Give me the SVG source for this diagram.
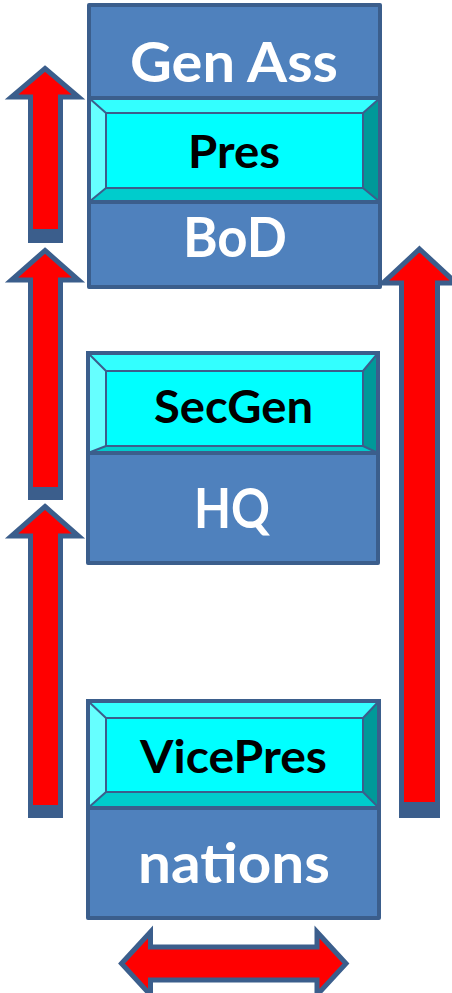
<svg xmlns="http://www.w3.org/2000/svg" width="452" height="993" viewBox="0 0 452 993">
<style>
.box{fill:#4F81BD;stroke:#3B5E8C;stroke-width:4;stroke-linejoin:round}
.div{stroke:#3B5E8C;stroke-width:4}
.bt{fill:#33FFFF}.bl{fill:#66FFFF}.br{fill:#009999}.bb{fill:#00CCCC}
.bi{fill:#00FFFF}
.be{fill:none;stroke:#3B5E8C;stroke-width:2}
.arr{fill:#FF0000;stroke:#3B5E8C;stroke-width:5;stroke-linejoin:miter}
.band{fill:#3B5E8C}
.wt{font-family:Lato,"Open Sans",sans-serif;font-weight:bold;font-size:56px;fill:#FFFFFF;text-anchor:middle}
.bk{font-family:Lato,"Open Sans",sans-serif;font-weight:bold;font-size:46px;fill:#000000;text-anchor:middle}
</style>
<g id="connectors">
<polygon class="arr" points="45,68.5 78.5,97 60.5,97 60.5,240 30.5,240 30.5,97 11.5,97"/>
<rect class="band" x="28" y="229" width="35" height="14"/>
<polygon class="arr" points="45,250.5 78.5,280 60.5,280 60.5,497 30.5,497 30.5,280 11.5,280"/>
<rect class="band" x="28" y="487" width="35" height="13"/>
<polygon class="arr" points="45,506.5 78.5,536 60.5,536 60.5,815 30.5,815 30.5,536 11.5,536"/>
<rect class="band" x="28" y="805" width="35" height="13"/>
<polygon class="arr" points="419.5,249 456,283 437.5,283 437.5,815 401.5,815 401.5,283 383,283"/>
<rect class="band" x="399" y="802" width="41" height="16"/>
<polygon class="arr" points="121.5,963.5 150.5,932 150.5,947 317,947 317,932 346,963.5 317,995 317,980 150.5,980 150.5,995"/>
</g>
<g id="node-genass">
<rect class="box" x="89" y="5" width="291" height="282"/>
<line class="div" x1="89" y1="98" x2="380" y2="98"/>
<line class="div" x1="89" y1="202" x2="380" y2="202"/>
<text class="wt" x="234" y="82" textLength="208" lengthAdjust="spacingAndGlyphs">Gen Ass</text>
<text class="wt" x="235" y="257" textLength="104" lengthAdjust="spacingAndGlyphs">BoD</text>
</g>
<g id="node-pres">
<polygon class="bt" points="89,98 380,98 363,113 106,113"/>
<polygon class="bl" points="89,98 106,113 106,188 89,202"/>
<polygon class="br" points="380,98 380,202 363,188 363,113"/>
<polygon class="bb" points="89,202 106,188 363,188 380,202"/>
<rect class="bi" x="106" y="113" width="257" height="75"/>
<path class="be" d="M89,98 L106,113 M380,98 L363,113 M89,202 L106,188 M380,202 L363,188"/>
<rect class="be" x="106" y="113" width="257" height="75"/>
<rect fill="none" stroke="#3B5E8C" stroke-width="4" x="89" y="98" width="291" height="104"/>
<text class="bk" x="234" y="168" textLength="92" lengthAdjust="spacingAndGlyphs">Pres</text>
</g>
<g id="node-hq">
<rect class="box" x="88" y="353" width="290" height="210"/>
<text class="wt" x="232" y="528" textLength="76" lengthAdjust="spacingAndGlyphs">HQ</text>
</g>
<g id="node-secgen">
<polygon class="bt" points="88,353 378,353 363,371 106,371"/>
<polygon class="bl" points="88,353 106,371 106,446 88,453"/>
<polygon class="br" points="378,353 378,453 363,446 363,371"/>
<polygon class="bb" points="88,453 106,446 363,446 378,453"/>
<rect class="bi" x="106" y="371" width="257" height="75"/>
<path class="be" d="M88,353 L106,371 M378,353 L363,371 M88,453 L106,446 M378,453 L363,446"/>
<rect class="be" x="106" y="371" width="257" height="75"/>
<rect fill="none" stroke="#3B5E8C" stroke-width="4" x="88" y="353" width="290" height="100"/>
<text class="bk" x="233.5" y="423" textLength="159" lengthAdjust="spacingAndGlyphs">SecGen</text>
</g>
<g id="node-nations">
<rect class="box" x="88" y="701" width="291" height="217"/>
<text class="wt" x="234" y="883" textLength="192" lengthAdjust="spacingAndGlyphs">nations</text>
</g>
<g id="node-vicepres">
<polygon class="bt" points="88,701 379,701 363,718 106,718"/>
<polygon class="bl" points="88,701 106,718 106,792 88,808"/>
<polygon class="br" points="379,701 379,808 363,792 363,718"/>
<polygon class="bb" points="88,808 106,792 363,792 379,808"/>
<rect class="bi" x="106" y="718" width="257" height="74"/>
<path class="be" d="M88,701 L106,718 M379,701 L363,718 M88,808 L106,792 M379,808 L363,792"/>
<rect class="be" x="106" y="718" width="257" height="74"/>
<rect fill="none" stroke="#3B5E8C" stroke-width="4" x="88" y="701" width="291" height="107"/>
<text class="bk" x="233.5" y="773" textLength="187" lengthAdjust="spacingAndGlyphs">VicePres</text>
</g>
</svg>
